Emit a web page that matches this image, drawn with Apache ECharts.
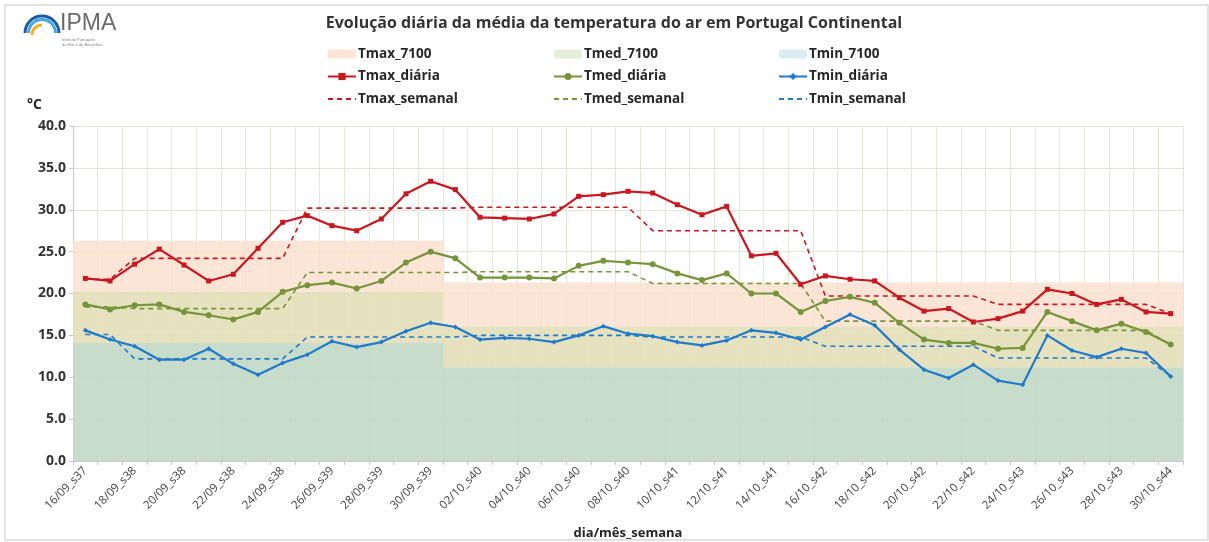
<!DOCTYPE html>
<html>
<head>
<meta charset="utf-8">
<script src="https://cdn.jsdelivr.net/npm/echarts@6/dist/echarts.min.js"></script>
<style>
  html, body { margin: 0; padding: 0; background: #fff; }
  #chart { width: 1209px; height: 542px; }
</style>
</head>
<body>
<div id="chart"></div>
<script>
// dias (dia/mês_semana)
const categorias = [
  "16/09_s37", "17/09_s37", "18/09_s38", "19/09_s38", "20/09_s38", "21/09_s38", "22/09_s38",
  "23/09_s38", "24/09_s38", "25/09_s39", "26/09_s39", "27/09_s39", "28/09_s39", "29/09_s39",
  "30/09_s39", "01/10_s39", "02/10_s40", "03/10_s40", "04/10_s40", "05/10_s40", "06/10_s40",
  "07/10_s40", "08/10_s40", "09/10_s41", "10/10_s41", "11/10_s41", "12/10_s41", "13/10_s41",
  "14/10_s41", "15/10_s41", "16/10_s42", "17/10_s42", "18/10_s42", "19/10_s42", "20/10_s42",
  "21/10_s42", "22/10_s42", "23/10_s43", "24/10_s43", "25/10_s43", "26/10_s43", "27/10_s43",
  "28/10_s43", "29/10_s43", "30/10_s44"
];

// valores diários (°C)
const tmaxDiaria = [
  21.8, 21.5, 23.5, 25.3, 23.4, 21.5, 22.3, 25.4, 28.5, 29.3, 28.1, 27.5, 28.9, 31.9, 33.4,
  32.4, 29.1, 29.0, 28.9, 29.5, 31.6, 31.8, 32.2, 32.0, 30.6, 29.4, 30.4, 24.5, 24.8, 21.1,
  22.1, 21.7, 21.5, 19.5, 17.9, 18.2, 16.6, 17.0, 17.9, 20.5, 20.0, 18.7, 19.3, 17.8, 17.6
];
const tmedDiaria = [
  18.7, 18.1, 18.6, 18.7, 17.8, 17.4, 16.9, 17.8, 20.2, 21.0, 21.3, 20.6, 21.5, 23.7, 25.0,
  24.2, 21.9, 21.9, 21.9, 21.8, 23.3, 23.9, 23.7, 23.5, 22.4, 21.6, 22.4, 20.0, 20.0, 17.8,
  19.1, 19.6, 18.9, 16.5, 14.5, 14.1, 14.1, 13.4, 13.5, 17.8, 16.7, 15.6, 16.4, 15.4, 13.9
];
const tminDiaria = [
  15.6, 14.5, 13.7, 12.1, 12.1, 13.4, 11.6, 10.3, 11.7, 12.7, 14.3, 13.6, 14.2, 15.5, 16.5,
  16.0, 14.5, 14.7, 14.6, 14.2, 15.0, 16.1, 15.2, 14.9, 14.2, 13.8, 14.4, 15.6, 15.3, 14.5,
  16.0, 17.5, 16.2, 13.3, 10.9, 9.9, 11.5, 9.6, 9.1, 15.0, 13.2, 12.4, 13.4, 12.9, 10.1
];

// médias semanais (semanas 37 a 44)
const semanas = [37, 38, 39, 40, 41, 42, 43, 44];
const tmaxSemanal = [21.7, 24.2, 30.2, 30.3, 27.5, 19.7, 18.7, 17.6];
const tmedSemanal = [18.4, 18.2, 22.5, 22.6, 21.2, 16.7, 15.6, 13.9];
const tminSemanal = [15.1, 12.2, 14.8, 15.0, 14.8, 13.7, 12.3, 10.1];

// normais 1971-2000 por mês (setembro, outubro)
const meses = ["09", "10"];
const tmax7100 = [26.3, 21.3];
const tmed7100 = [20.2, 16.1];
const tmin7100 = [14.1, 11.2];

const yTicks = [0, 5, 10, 15, 20, 25, 30, 35, 40];

// helpers
const mesIdx = c => meses.indexOf(c.slice(3, 5));
const semIdx = c => semanas.indexOf(+c.split("_s")[1]);
const porSemana = arr => categorias.map(c => arr[semIdx(c)]);
const porMes = arr => categorias.map(c => arr[mesIdx(c)]);

const nMin = porMes(tmin7100);
const nMed = porMes(tmed7100);
const nMax = porMes(tmax7100);
// faixas empilhadas: cada uma sobre a anterior
const bandaMin = nMin;
const bandaMed = nMed.map((v, i) => +(v - nMin[i]).toFixed(1));
const bandaMax = nMax.map((v, i) => +(v - nMed[i]).toFixed(1));

const RED = "#c8171e", GREEN = "#76953a", BLUE = "#1f7acb";
const FONT = "'Open Sans', 'Liberation Sans', sans-serif";

const chart = echarts.init(document.getElementById("chart"));

function legenda(left, nomes, cor) {
  return {
    orient: "vertical",
    left: left,
    top: 46,
    padding: 0,
    itemWidth: 28,
    itemHeight: 9,
    itemGap: 6.5,
    selectedMode: false,
    textStyle: { fontFamily: FONT, fontSize: 13.5, fontWeight: "bold", color: "#262626", lineHeight: 16, padding: [0, 0, 0, -3] },
    data: nomes.map((n, i) => {
      if (i === 0) return { name: n, itemStyle: { color: cor } };
      if (i === 2) return { name: n, itemStyle: { opacity: 0 } };
      return { name: n };
    })
  };
}

const option = {
  backgroundColor: "#fff",
  animation: false,
  title: {
    text: "Evolução diária da média da temperatura do ar em Portugal Continental",
    left: 609,
    textAlign: "center",
    top: 10,
    textStyle: { fontFamily: FONT, fontSize: 16, fontWeight: "bold", color: "#333" }
  },
  legend: [
    legenda(327, ["Tmax_7100", "Tmax_diária", "Tmax_semanal"], "#fce4d6"),
    legenda(553, ["Tmed_7100", "Tmed_diária", "Tmed_semanal"], "#e4eed8"),
    legenda(778, ["Tmin_7100", "Tmin_diária", "Tmin_semanal"], "#d9edf3")
  ],
  grid: { left: 73, right: 26, top: 126, bottom: 81, outerBoundsMode: "none" },
  xAxis: {
    type: "category",
    data: categorias,
    boundaryGap: true,
    name: "dia/mês_semana",
    nameLocation: "middle",
    nameGap: 66,
    nameTextStyle: { fontFamily: FONT, fontSize: 13, fontWeight: "bold", color: "#262626" },
    axisLine: { lineStyle: { color: "#c8c8c8" } },
    axisTick: { show: true, interval: 0, length: 4, lineStyle: { color: "#c8c8c8" } },
    axisLabel: {
      interval: 1,
      rotate: 45,
      margin: 8,
      fontFamily: FONT,
      fontSize: 11.5,
      color: "#404040"
    },
    splitLine: { show: true, interval: 0, lineStyle: { color: "#e6e4d5", width: 1 } }
  },
  yAxis: {
    type: "value",
    min: 0,
    max: 40,
    interval: 5,
    axisLine: { show: true, lineStyle: { color: "#c8c8c8" } },
    axisTick: { show: true, length: 4, lineStyle: { color: "#c8c8c8" } },
    axisLabel: {
      margin: 7,
      fontFamily: FONT,
      fontSize: 14,
      fontWeight: "bold",
      color: "#333",
      formatter: v => yTicks.includes(v) ? v.toFixed(1) : ""
    },
    splitLine: { show: true, lineStyle: { color: "#e6e4d5" } }
  },
  graphic: [
    { type: "rect", shape: { x: 5, y: 5, width: 1203, height: 535 }, style: { fill: "none", stroke: "#d9d9d9", lineWidth: 1.5 }, z: -1 },
    // logo IPMA
    { type: "arc", shape: { cx: 42, cy: 33, r: 17, startAngle: Math.PI, endAngle: 2 * Math.PI }, style: { fill: "none", stroke: "#1e5aa8", lineWidth: 3 } },
    { type: "arc", shape: { cx: 42, cy: 33, r: 13.5, startAngle: Math.PI, endAngle: 2 * Math.PI }, style: { fill: "none", stroke: "#3fa9e4", lineWidth: 3 } },
    { type: "arc", shape: { cx: 42, cy: 35, r: 10, startAngle: Math.PI, endAngle: 1.5 * Math.PI }, style: { fill: "none", stroke: "#f4b027", lineWidth: 3 } },
    { type: "text", left: 60, top: 12, style: { text: "IPMA", font: "500 23px 'Liberation Sans Narrow', 'Liberation Sans', sans-serif", fill: "#6b6b6b" } },
    { type: "text", left: 62, top: 38, style: { text: "Instituto Português\ndo Mar e da Atmosfera", font: "4px sans-serif", fill: "#888", lineHeight: 4.5 } },
    { type: "text", left: 27, top: 98, style: { text: "°C", font: "bold 14px " + FONT, fill: "#262626" } }
  ],
  series: [
    {
      name: "Tmin_7100", type: "bar", stack: "normais", data: bandaMin,
      barWidth: "100%", itemStyle: { color: "rgba(190,214,194,0.85)" }, silent: true
    },
    {
      name: "Tmed_7100", type: "bar", stack: "normais", data: bandaMed,
      barWidth: "100%", itemStyle: { color: "rgba(226,221,181,0.85)" }, silent: true
    },
    {
      name: "Tmax_7100", type: "bar", stack: "normais", data: bandaMax,
      barWidth: "100%", itemStyle: { color: "rgba(250,224,207,0.85)" }, silent: true
    },
    {
      name: "Tmax_semanal", type: "line", data: porSemana(tmaxSemanal), symbol: "none",
      lineStyle: { color: RED, width: 1.6, type: [5, 4] }, itemStyle: { color: RED }, z: 3
    },
    {
      name: "Tmed_semanal", type: "line", data: porSemana(tmedSemanal), symbol: "none",
      lineStyle: { color: GREEN, width: 1.6, type: [5, 4] }, itemStyle: { color: GREEN }, z: 3
    },
    {
      name: "Tmin_semanal", type: "line", data: porSemana(tminSemanal), symbol: "none",
      lineStyle: { color: BLUE, width: 1.6, type: [5, 4] }, itemStyle: { color: BLUE }, z: 3
    },
    {
      name: "Tmax_diária", type: "line", data: tmaxDiaria, symbol: "rect", symbolSize: 5,
      lineStyle: { color: RED, width: 2.2 }, itemStyle: { color: RED }, z: 4
    },
    {
      name: "Tmed_diária", type: "line", data: tmedDiaria, symbol: "circle", symbolSize: 6,
      lineStyle: { color: GREEN, width: 2.2 }, itemStyle: { color: GREEN }, z: 4
    },
    {
      name: "Tmin_diária", type: "line", data: tminDiaria, symbol: "diamond", symbolSize: 5,
      lineStyle: { color: BLUE, width: 2.2 }, itemStyle: { color: BLUE }, z: 4
    }
  ]
};

chart.setOption(option);
</script>
</body>
</html>
